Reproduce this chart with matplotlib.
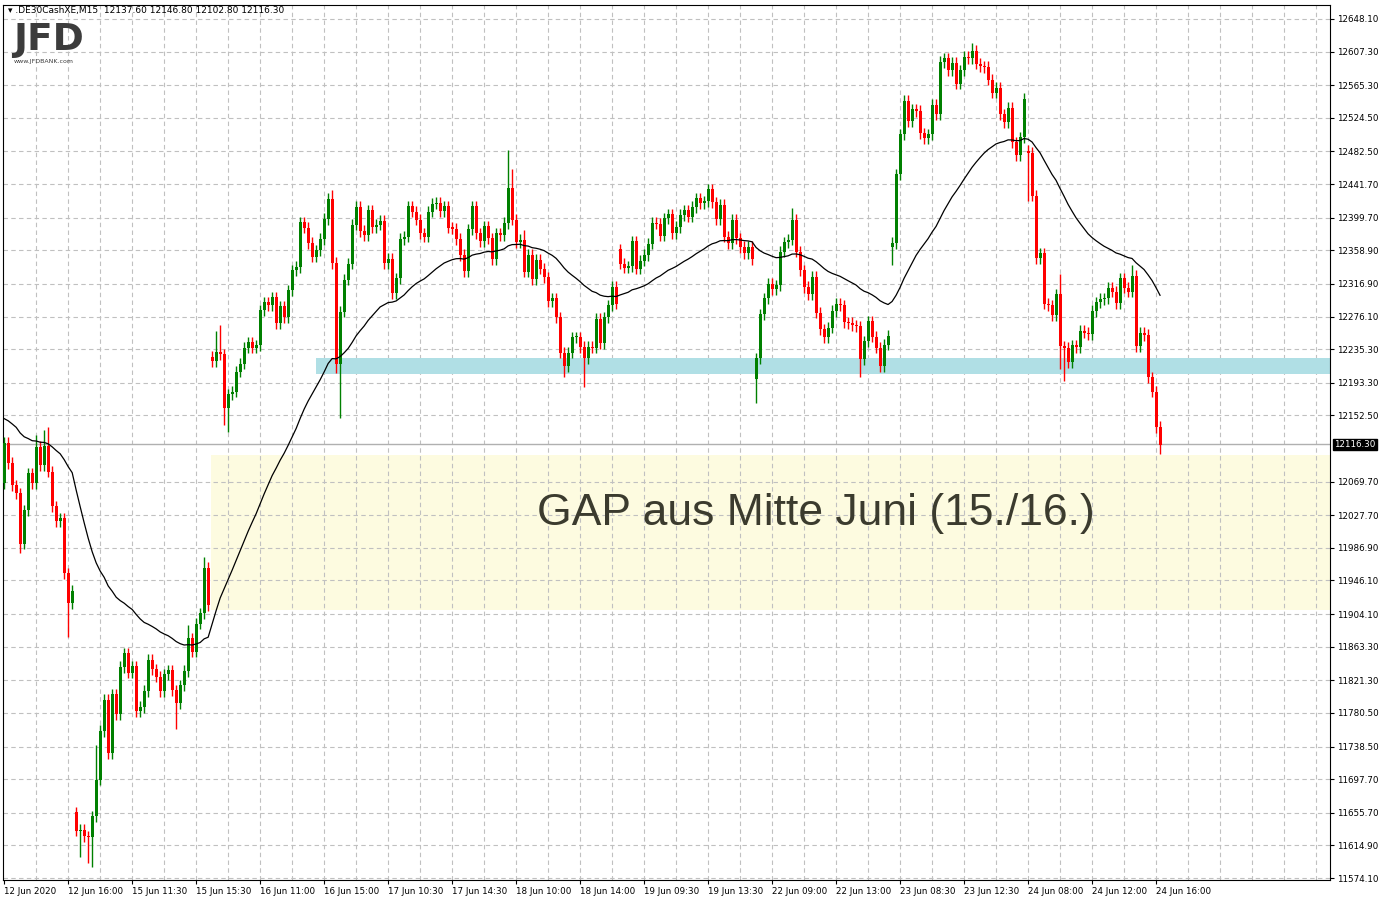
"""DE30 M15 candlestick chart with gap zone and support band."""

import matplotlib

matplotlib.use("Agg")
import matplotlib.pyplot as plt  # noqa: E402
import numpy as np  # noqa: E402
import pandas as pd  # noqa: E402

# closing prices per 15-minute bar
closes = [
    12118, 12093, 12065, 12055, 11992, 12034, 12080, 12068, 12113, 12090,
    12114, 12082, 12039, 12020, 12024, 11955, 11918, 11933,
    11633, 11634, 11626, 11625, 11651, 11697, 11758, 11797, 11730, 11804, 11779, 11838,
    11855, 11831, 11839, 11783, 11788, 11808, 11847, 11835, 11826, 11808,
    11829, 11834, 11809, 11793, 11815, 11833, 11874, 11857, 11892, 11905, 11962, 11915,
    12220, 12232, 12229, 12162, 12179, 12182, 12207, 12217,
    12237, 12244, 12237, 12240, 12284, 12294, 12290, 12300, 12268, 12289,
    12275, 12309, 12334, 12338, 12394, 12387, 12368, 12351, 12359, 12373,
    12398, 12423, 12343, 12217, 12282, 12322, 12342, 12391, 12413, 12383,
    12378, 12409, 12388, 12391, 12396, 12343, 12348, 12305, 12324, 12373,
    12376, 12414, 12407, 12397, 12380, 12376, 12407, 12417, 12418, 12408,
    12414, 12387, 12386, 12373, 12353, 12333, 12385, 12414, 12380, 12370,
    12389, 12374, 12348, 12380, 12378, 12393, 12437, 12397, 12369, 12372,
    12332, 12353, 12323, 12347, 12336, 12325, 12295, 12299, 12275, 12231,
    12214, 12231, 12250, 12250, 12238, 12224, 12238, 12237, 12273, 12243,
    12275, 12290, 12313, 12292, 12342, 12337, 12339, 12370, 12336, 12346,
    12353, 12367, 12393, 12392, 12377, 12399, 12404, 12380, 12388, 12403,
    12409, 12401, 12413, 12424, 12418, 12420, 12435, 12419, 12398, 12416,
    12376, 12368, 12397, 12374, 12363, 12355, 12363, 12348, 12224, 12279,
    12299, 12317, 12310, 12315, 12357, 12369, 12372, 12397, 12357, 12334,
    12313, 12304, 12326, 12281, 12260, 12250, 12262, 12283, 12292, 12290,
    12269, 12268, 12265, 12264, 12223, 12245, 12270, 12251, 12237, 12214,
    12241, 12252, 12368, 12454, 12504, 12546, 12520, 12535, 12533, 12505,
    12499, 12504, 12541, 12529, 12594, 12599, 12584, 12593, 12567, 12584,
    12601, 12599, 12608, 12592, 12589, 12588, 12572, 12556, 12562, 12529,
    12519, 12537, 12494, 12478, 12500, 12548, 12481, 12427, 12349, 12355,
    12292, 12290, 12278, 12304, 12239, 12237, 12219, 12240, 12238, 12258,
    12256, 12254, 12283, 12294, 12298, 12299, 12312, 12307, 12293, 12324,
    12312, 12307, 12327, 12239, 12256, 12253, 12200, 12182, 12138, 12116,
]
# bars whose open differs from the previous close (session gaps)
gap_opens = {0: 12068, 18: 11656, 52: 12226, 154: 12360, 188: 12198,
             222: 12363, 256: 12483}
# long wicks
high_marks = {8: 12128, 10: 12134, 11: 12138, 53: 12258, 54: 12265, 82: 12434,
              81: 12430, 126: 12484, 127: 12460, 130: 12384, 176: 12442,
              197: 12412, 234: 12602, 242: 12618, 255: 12552, 264: 12329,
              282: 12340, 23: 11740, 46: 11890, 50: 11976}
low_marks = {4: 11980, 16: 11876, 19: 11600, 21: 11593, 22: 11588, 55: 12140,
             56: 12132, 84: 12149, 140: 12200, 145: 12188, 188: 12168,
             214: 12200, 222: 12340, 256: 12420, 264: 12210, 265: 12195,
             289: 12104, 83: 12205, 43: 11760}
# moving average level just before the first visible bar
ma_start = 12150
ma_period = 40

tick_prices = [12648.10, 12607.30, 12565.30, 12524.50, 12482.50, 12441.70, 12399.70,
               12358.90, 12316.90, 12276.10, 12235.30, 12193.30, 12152.50, 12069.70,
               12027.70, 11986.90, 11946.10, 11904.10, 11863.30, 11821.30, 11780.50,
               11738.50, 11697.70, 11655.70, 11614.90, 11574.10]
time_labels = ["12 Jun 2020", "12 Jun 16:00", "15 Jun 11:30", "15 Jun 15:30",
               "16 Jun 11:00", "16 Jun 15:00", "17 Jun 10:30", "17 Jun 14:30",
               "18 Jun 10:00", "18 Jun 14:00", "19 Jun 09:30", "19 Jun 13:30",
               "22 Jun 09:00", "22 Jun 13:00", "23 Jun 08:30", "23 Jun 12:30",
               "24 Jun 08:00", "24 Jun 12:00", "24 Jun 16:00"]
last_price = 12116.30
gap_zone = (11909, 12103)
support_band = (12204, 12224)

c = np.array(closes, dtype=float)
n = len(c)
o = np.concatenate([[c[0]], c[:-1]])
for i, v in gap_opens.items():
    o[i] = v
hi = np.maximum(o, c) + 7
lo = np.minimum(o, c) - 7
for i, v in high_marks.items():
    hi[i] = max(hi[i], v)
for i, v in low_marks.items():
    lo[i] = min(lo[i], v)
ma = pd.Series([ma_start] + closes).ewm(span=ma_period, adjust=False).mean().to_numpy()[1:]
x = np.arange(n)

fig = plt.figure(figsize=(13.81, 9.01), dpi=100)
ax = fig.add_axes([3 / 1381, 21 / 901, 1327 / 1381, 875 / 901])
xmin, xmax = -0.3, 331.5
ax.set_xlim(xmin, xmax)
ax.set_ylim(11571.6, 12665.6)

# zones
ax.axhspan(*gap_zone, xmin=(51.8 - xmin) / (xmax - xmin), xmax=1, color="#fdfbe0", lw=0, zorder=0)
ax.axhspan(*support_band, xmin=(78 - xmin) / (xmax - xmin), xmax=1, color="#b0dfe5", lw=0, zorder=1)
ax.text(203, 12030, "GAP aus Mitte Juni (15./16.)", fontsize=32, color="#3b3b2e",
        ha="center", va="center", family="Liberation Sans", zorder=2)

# grid
for p in tick_prices:
    ax.axhline(p, color="#c0c0c0", lw=0.8, ls=(0, (4, 3)), zorder=0.5)
for gx in range(8, 332, 8):
    ax.axvline(gx, color="#c0c0c0", lw=0.8, ls=(0, (4, 3)), zorder=0.5)
ax.axhline(last_price, color="#b0b0b0", lw=1, zorder=1.5)

colors = np.where(c >= o, "#008000", "#ff0000")
ax.vlines(x, lo, hi, colors=colors, lw=1, zorder=3)
body = np.abs(c - o)
body = np.where(body < 1.5, 1.5, body)
ax.bar(x, body, bottom=np.minimum(o, c), width=0.75, color=colors, lw=0, zorder=4)
ax.plot(x, ma, color="black", lw=0.9, zorder=5)

ax.yaxis.tick_right()
ax.set_yticks(tick_prices)
ax.set_yticklabels([f"{p:.2f}" for p in tick_prices], fontsize=6.3)
ax.set_xticks(np.arange(len(time_labels)) * 16)
ax.set_xticklabels(time_labels, fontsize=6.3, ha="left")
ax.tick_params(axis="y", length=3, pad=2)
ax.tick_params(axis="x", length=3, pad=2)
for s in ax.spines.values():
    s.set_color("black")
ax.text(1.003, last_price, f"{last_price:.2f}", transform=ax.get_yaxis_transform(),
        fontsize=6.3, color="white", va="center", ha="left",
        bbox=dict(boxstyle="square,pad=0.15", fc="black", ec="black"))

fig.text(8 / 1381, 1 - 11 / 901, "\u25be .DE30CashXE,M15  12137.60 12146.80 12102.80 12116.30",
         fontsize=6.5, va="center")
fig.text(13 / 1381, 1 - 40 / 901, "JFD", fontsize=27, fontweight="bold", color="#3c3c3c",
         va="center")
fig.text(14 / 1381, 1 - 62 / 901, "www.JFDBANK.com", fontsize=4.5, color="#3c3c3c", va="center")

fig.savefig("out.png", dpi=100)
plt.close(fig)
